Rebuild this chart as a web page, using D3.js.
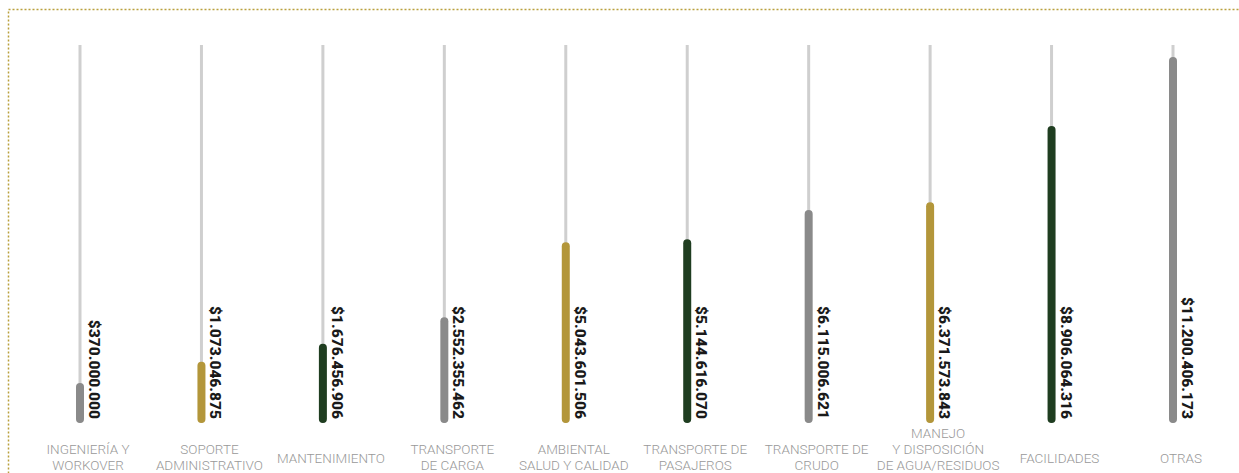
<!DOCTYPE html>
<html>
<head>
<meta charset="utf-8">
<script src="https://cdn.jsdelivr.net/npm/d3@7"></script>
<style>
  body { margin: 0; background: #fff; }
  svg { display: block; }
</style>
</head>
<body>
<div id="chart"></div>
<script>
const categories = [
  ["INGENIERÍA Y", "WORKOVER"],
  ["SOPORTE", "ADMINISTRATIVO"],
  ["MANTENIMIENTO"],
  ["TRANSPORTE", "DE CARGA"],
  ["AMBIENTAL", "SALUD Y CALIDAD"],
  ["TRANSPORTE DE", "PASAJEROS"],
  ["TRANSPORTE DE", "CRUDO"],
  ["MANEJO", "Y DISPOSICIÓN", "DE AGUA/RESIDUOS"],
  ["FACILIDADES"],
  ["OTRAS"]
];
const values = [370000000, 1073046875, 1676456906, 2552355462, 5043601506,
                5144616070, 6115006621, 6371573843, 8906064316, 11200406173];
const palette = ["#8a8a8a", "#b3963a", "#1f3d20"];

const chart_width = 1239, chart_height = 473;
const chart_base = 423, chart_top = 57;

const svg = d3.select("#chart").append("svg")
  .attr("width", chart_width)
  .attr("height", chart_height);

// dotted frame (only top and left edges show)
svg.append("rect")
  .attr("x", 8.5).attr("y", 9.5)
  .attr("width", 1300).attr("height", 600)
  .attr("fill", "none")
  .attr("stroke", "#b9a03c")
  .attr("stroke-width", 1.5)
  .attr("stroke-dasharray", "2,2");

var x = d3.scalePoint()
  .domain(d3.range(values.length))
  .range([80, 1173]);

// bars are not to zero: the chart keeps a minimum stub length
var y = d3.scaleLinear()
  .domain([-0.96e9, 11200406173])
  .range([chart_base, chart_top]);

var fmt = d3.formatLocale({decimal: ",", thousands: ".", grouping: [3], currency: ["$", ""]}).format("$,.0f");

var g = svg.append("g");

// grey tracks
g.selectAll(".track")
  .data(values)
  .enter()
  .append("rect")
    .attr("class", "track")
    .attr("x", function(d, i) { return x(i) - 1.5; })
    .attr("y", 45)
    .attr("width", 3)
    .attr("height", chart_base - 45)
    .attr("fill", "#cfcfcf");

// value bars
g.selectAll(".bar")
  .data(values)
  .enter()
  .append("rect")
    .attr("class", "bar")
    .attr("x", function(d, i) { return x(i) - 4; })
    .attr("y", function(d) { return y(d); })
    .attr("width", 8)
    .attr("height", function(d) { return chart_base - y(d); })
    .attr("rx", 4)
    .attr("fill", function(d, i) { return palette[i % 3]; });

// rotated value labels
g.selectAll(".val")
  .data(values)
  .enter()
  .append("text")
    .attr("class", "val")
    .attr("transform", function(d, i) { return "translate(" + (x(i) + 9) + "," + (chart_base - 4) + ") rotate(90)"; })
    .attr("text-anchor", "end")
    .attr("font-family", "Roboto, sans-serif")
    .attr("font-weight", 900)
    .attr("font-size", "15.5px")
    .attr("fill", "#1a1a1a")
    .text(function(d) { return fmt(d); });

// category labels, bottom line sits near the lower edge
var lab = g.selectAll(".cat")
  .data(categories)
  .enter()
  .append("text")
    .attr("class", "cat")
    .attr("text-anchor", "middle")
    .attr("font-family", "'Roboto Light', Roboto, sans-serif")
    .attr("font-weight", 300)
    .attr("font-size", "13.5px")
    .attr("fill", "#999999")
    .attr("transform", function(d, i) { return "translate(" + (x(i) + 8) + "," + (470 - (d.length - 1) * 16 - (d.length == 1 ? 7 : 0)) + ")"; });

lab.selectAll("tspan")
  .data(function(d) { return d; })
  .enter()
  .append("tspan")
    .attr("x", 0)
    .attr("dy", function(d, i) { return i == 0 ? 0 : 16; })
    .text(function(d) { return d; });
</script>
</body>
</html>
